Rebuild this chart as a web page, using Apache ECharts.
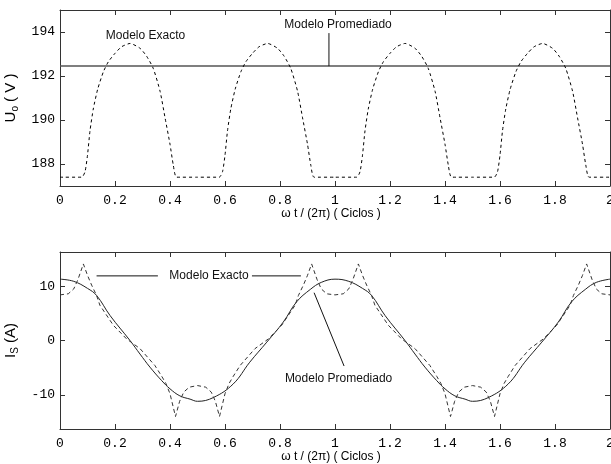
<!DOCTYPE html>
<html><head><meta charset="utf-8">
<script src="https://cdn.jsdelivr.net/npm/echarts@6/dist/echarts.min.js"></script>
<style>html,body{margin:0;padding:0;background:#fff}#c{width:611px;height:464px}</style>
</head><body><div id="c"></div><script>
// ---- Top panel: output voltage Uo (V) ----
const uoX = [0, 0.079, 0.091, 0.1, 0.109, 0.121, 0.137, 0.158, 0.176, 0.2, 0.224, 0.255, 0.291, 0.315, 0.339, 0.364, 0.382, 0.4, 0.412, 0.424,
  0.5, 0.579, 0.591, 0.6, 0.609, 0.621, 0.637, 0.658, 0.676, 0.7, 0.724, 0.755, 0.791, 0.815, 0.839, 0.864, 0.882, 0.9, 0.912, 0.924,
  1.0, 1.079, 1.091, 1.1, 1.109, 1.121, 1.137, 1.158, 1.176, 1.2, 1.224, 1.255, 1.291, 1.315, 1.339, 1.364, 1.382, 1.4, 1.412, 1.424,
  1.5, 1.579, 1.591, 1.6, 1.609, 1.621, 1.637, 1.658, 1.676, 1.7, 1.724, 1.755, 1.791, 1.815, 1.839, 1.864, 1.882, 1.9, 1.912, 1.924, 2.0];
const uoExacto = [187.4, 187.4, 187.65, 188.4, 189.5, 190.5, 191.4, 192.2, 192.65, 193.03, 193.33, 193.48, 193.26, 192.9, 192.35, 191.3, 190.1, 188.9, 187.95, 187.4,
  187.4, 187.4, 187.65, 188.4, 189.5, 190.5, 191.4, 192.2, 192.65, 193.03, 193.33, 193.48, 193.26, 192.9, 192.35, 191.3, 190.1, 188.9, 187.95, 187.4,
  187.4, 187.4, 187.65, 188.4, 189.5, 190.5, 191.4, 192.2, 192.65, 193.03, 193.33, 193.48, 193.26, 192.9, 192.35, 191.3, 190.1, 188.9, 187.95, 187.4,
  187.4, 187.4, 187.65, 188.4, 189.5, 190.5, 191.4, 192.2, 192.65, 193.03, 193.33, 193.48, 193.26, 192.9, 192.35, 191.3, 190.1, 188.9, 187.95, 187.4, 187.4];
const uoMeanX = [0, 2];
const uoPromediado = [192.45, 192.45];
const uoTicks = [188, 190, 192, 194];

// ---- Bottom panel: source current Is (A) ----
const isProX = [0, 0.05, 0.1, 0.133, 0.182, 0.2545, 0.291, 0.327, 0.37, 0.4, 0.436, 0.473, 0.5, 0.558, 0.63, 0.69, 0.752, 0.812, 0.86, 0.91, 0.95,
  1.0, 1.05, 1.1, 1.133, 1.182, 1.2545, 1.291, 1.327, 1.37, 1.4, 1.436, 1.473, 1.5, 1.558, 1.63, 1.69, 1.752, 1.812, 1.86, 1.91, 1.95, 2.0];
const isPromediado = [11.3, 10.9, 9.6, 8.3, 4.6, 0.0, -2.5, -4.9, -7.4, -8.9, -10.2, -10.8, -11.2, -10.5, -8.0, -4.0, -0.3, 3.4, 7.1, 9.4, 10.7,
  11.3, 10.9, 9.6, 8.3, 4.6, 0.0, -2.5, -4.9, -7.4, -8.9, -10.2, -10.8, -11.2, -10.5, -8.0, -4.0, -0.3, 3.4, 7.1, 9.4, 10.7, 11.3];
const isExX = [0, 0.03, 0.05, 0.065, 0.085, 0.1, 0.115, 0.133, 0.145, 0.194, 0.242, 0.291, 0.345, 0.37, 0.385, 0.4, 0.42, 0.435, 0.45, 0.47,
  0.5, 0.53, 0.55, 0.565, 0.58, 0.6, 0.615, 0.63, 0.655, 0.709, 0.758, 0.806, 0.855, 0.867, 0.885, 0.9, 0.915, 0.935, 0.95, 0.97,
  1.0, 1.03, 1.05, 1.065, 1.085, 1.1, 1.115, 1.133, 1.145, 1.194, 1.242, 1.291, 1.345, 1.37, 1.385, 1.4, 1.42, 1.435, 1.45, 1.47,
  1.5, 1.53, 1.55, 1.565, 1.58, 1.6, 1.615, 1.63, 1.655, 1.709, 1.758, 1.806, 1.855, 1.867, 1.885, 1.9, 1.915, 1.935, 1.95, 1.97, 2.0];
const isExacto = [8.4, 8.6, 9.5, 11.2, 14.1, 12.0, 10.2, 8.3, 6.5, 2.8, 0.3, -1.5, -4.6, -6.6, -7.9, -9.8, -14.0, -11.2, -9.5, -8.6,
  -8.3, -8.6, -9.5, -11.2, -14.0, -9.8, -7.9, -6.6, -4.6, -1.5, 0.3, 2.8, 6.5, 8.3, 10.2, 12.0, 14.1, 11.2, 9.5, 8.6,
  8.4, 8.6, 9.5, 11.2, 14.1, 12.0, 10.2, 8.3, 6.5, 2.8, 0.3, -1.5, -4.6, -6.6, -7.9, -9.8, -14.0, -11.2, -9.5, -8.6,
  -8.3, -8.6, -9.5, -11.2, -14.0, -9.8, -7.9, -6.6, -4.6, -1.5, 0.3, 2.8, 6.5, 8.3, 10.2, 12.0, 14.1, 11.2, 9.5, 8.6, 8.4];
const isTicks = [-10, 0, 10];

const xTitle = 'ω t / (2π) ( Ciclos )';
const labelExacto = 'Modelo Exacto';
const labelPromediado = 'Modelo Promediado';

const zip = (xs, ys) => xs.map((x, i) => [x, ys[i]]);
const MONO = '"Liberation Mono", monospace';
const SANS = '"Liberation Sans", Arial, sans-serif';
const AX = '#333';

function xAx(grid, pos, showLabel, name) {
  return {
    type: 'value', gridIndex: grid, position: pos, min: 0, max: 2, interval: 0.2,
    axisLine: { show: true, onZero: false, lineStyle: { color: AX, width: 1 } },
    axisTick: { show: true, inside: true, length: 5, lineStyle: { color: AX } },
    axisLabel: { show: showLabel, fontFamily: MONO, fontSize: 13, color: '#000', margin: 8 },
    splitLine: { show: false },
    name: name || '', nameLocation: 'middle', nameGap: 20,
    nameTextStyle: { fontFamily: SANS, fontSize: 12, color: '#000', padding: [0, 8, 0, 0] }
  };
}
function yAx(grid, pos, min, max, ticks, showLabel, name, gap) {
  return {
    type: 'value', gridIndex: grid, position: pos, min: min, max: max,
    axisLine: { show: true, onZero: false, lineStyle: { color: AX, width: 1 } },
    axisTick: { show: true, inside: true, length: 5, customValues: ticks, lineStyle: { color: AX } },
    axisLabel: { show: showLabel, customValues: ticks, fontFamily: MONO, fontSize: 13, color: '#000', margin: 5 },
    splitLine: { show: false },
    name: name || '', nameLocation: 'middle', nameRotate: 90, nameGap: gap || 30,
    nameTextStyle: {
      fontFamily: SANS, fontSize: 15, color: '#000',
      rich: {
        m: { fontFamily: SANS, fontSize: 15, color: '#000', lineHeight: 20, verticalAlign: 'middle' },
        s: { fontFamily: SANS, fontSize: 10, color: '#000', lineHeight: 11, verticalAlign: 'bottom' }
      }
    }
  };
}

const chart = echarts.init(document.getElementById('c'), null, { renderer: 'canvas' });
chart.setOption({
  animation: false,
  backgroundColor: '#fff',
  grid: [
    { left: 60, top: 10, width: 550, height: 176, containLabel: false, outerBoundsMode: 'none' },
    { left: 60, top: 252, width: 550, height: 177, containLabel: false, outerBoundsMode: 'none' }
  ],
  xAxis: [
    xAx(0, 'bottom', true, xTitle),
    xAx(0, 'top', false),
    xAx(1, 'bottom', true, xTitle),
    xAx(1, 'top', false)
  ],
  yAxis: [
    yAx(0, 'left', 187, 195, uoTicks, true, '{m|U}{s|o}{m| ( V )}', 35),
    yAx(0, 'right', 187, 195, uoTicks, false),
    yAx(1, 'left', -16.3, 16.3, isTicks, true, '{m|I}{s|S}{m| (A)}', 33),
    yAx(1, 'right', -16.3, 16.3, isTicks, false)
  ],
  series: [
    { type: 'line', xAxisIndex: 0, yAxisIndex: 0, data: zip(uoMeanX, uoPromediado), showSymbol: false,
      lineStyle: { color: '#555', width: 1.5 } },
    { type: 'line', xAxisIndex: 0, yAxisIndex: 0, data: zip(uoX, uoExacto), showSymbol: false, smooth: 0.2,
      lineStyle: { color: '#000', width: 1, type: [3, 3] } },
    { type: 'line', xAxisIndex: 2, yAxisIndex: 2, data: zip(isProX, isPromediado), showSymbol: false, smooth: 0.4,
      lineStyle: { color: '#222', width: 1 } },
    { type: 'line', xAxisIndex: 2, yAxisIndex: 2, data: zip(isExX, isExacto), showSymbol: false,
      lineStyle: { color: '#333', width: 1, type: [4, 3] } }
  ]
});

// annotations placed in data coordinates, converted through the axes
function P(grid, x, y) { return chart.convertToPixel({ gridIndex: grid }, [x, y]); }
function txt(grid, x, y, s) {
  const p = P(grid, x, y);
  return { type: 'text', x: p[0], y: p[1], z: 100,
    style: { text: s, font: '12px ' + SANS, fill: '#111', align: 'center', verticalAlign: 'middle' } };
}
function seg(grid, x1, y1, x2, y2) {
  const a = P(grid, x1, y1), b = P(grid, x2, y2);
  return { type: 'line', z: 100, shape: { x1: a[0], y1: a[1], x2: b[0], y2: b[1] },
    style: { stroke: '#111', lineWidth: 1 } };
}
chart.setOption({
  graphic: [
    txt(0, 0.311, 193.82, labelExacto),
    txt(0, 1.011, 194.34, labelPromediado),
    seg(0, 0.978, 193.95, 0.978, 192.45),
    txt(1, 0.542, 11.9, labelExacto),
    seg(1, 0.133, 11.9, 0.356, 11.9),
    seg(1, 0.698, 11.9, 0.876, 11.9),
    txt(1, 1.013, -7.1, labelPromediado),
    seg(1, 0.924, 8.8, 1.033, -4.7)
  ]
});
</script></body></html>
